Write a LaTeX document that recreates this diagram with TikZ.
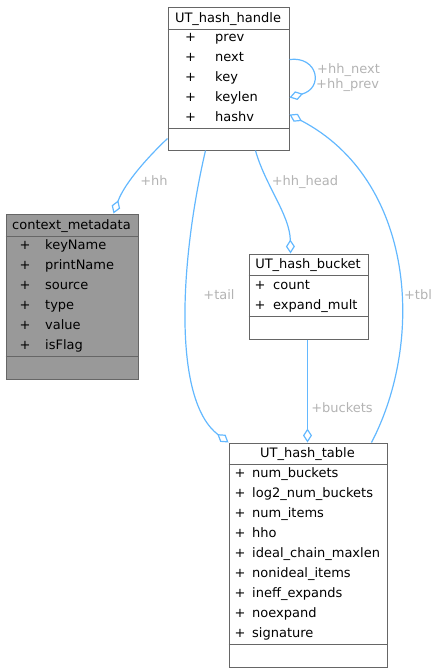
\documentclass[tikz,border=0pt]{standalone}
\usepackage{fontspec}
\setmainfont{DejaVu Sans}
\usetikzlibrary{arrows.meta,calc}
\definecolor{edgec}{HTML}{63B8FF}
\definecolor{labc}{HTML}{B3B3B3}
\definecolor{boxc}{HTML}{666666}
\definecolor{fillc}{HTML}{999999}
\begin{document}
\begin{tikzpicture}[x=1pt,y=-1pt, font=\fontsize{13}{15}\selectfont,
 classbox/.style={draw=boxc, line width=1pt, inner sep=0, anchor=north west},
 sepline/.style={draw=boxc, line width=1pt},
 txt/.style={anchor=base west, inner sep=0},
 ctxt/.style={anchor=base, inner sep=0},
 lbl/.style={text=labc, inner sep=0, anchor=base},
 lblw/.style={text=labc, inner sep=0, anchor=base west},
 rel/.style={draw=edgec, line width=1.2pt, -{Diamond[open, length=14pt, width=9pt]}}]
\useasboundingbox (0,0) rectangle (439,672);

% UT_hash_handle
\node[classbox, minimum width=121pt, minimum height=143pt] (hnd) at (167.5,6.5) {};
\draw[sepline] ($(hnd.north west)+(0,23)$) -- ($(hnd.north east)+(0,23)$);
\draw[sepline] ($(hnd.north west)+(0,122)$) -- ($(hnd.north east)+(0,122)$);
\node[ctxt] (hndT) at (228,22) {UT\_hash\_handle};
\foreach \n/\t [count=\i from 0] in {h1/prev,h2/next,h3/key,h4/keylen,h5/hashv}{
  \node[ctxt] (\n p) at (190.5,41.5+20*\i) {+};
  \node[txt] (\n) at (215,41.5+20*\i) {\t};
}

% context_metadata
\node[classbox, fill=fillc, minimum width=132pt, minimum height=165pt] (ctx) at (5.5,213.5) {};
\draw[sepline] ($(ctx.north west)+(0,23)$) -- ($(ctx.north east)+(0,23)$);
\draw[sepline] ($(ctx.north west)+(0,143)$) -- ($(ctx.north east)+(0,143)$);
\node[ctxt] (ctxT) at (71.5,229) {context\_metadata};
\foreach \n/\t [count=\i from 0] in {c1/keyName,c2/printName,c3/source,c4/type,c5/value,c6/isFlag}{
  \node[ctxt] (\n p) at (25,249.5+20*\i) {+};
  \node[txt] (\n) at (45,249.5+20*\i) {\t};
}

% UT_hash_bucket
\node[classbox, minimum width=119pt, minimum height=85pt] (bkt) at (248.5,253.5) {};
\draw[sepline] ($(bkt.north west)+(0,22)$) -- ($(bkt.north east)+(0,22)$);
\draw[sepline] ($(bkt.north west)+(0,63)$) -- ($(bkt.north east)+(0,63)$);
\node[ctxt] (bktT) at (308,268.5) {UT\_hash\_bucket};
\foreach \n/\t [count=\i from 0] in {b1/count,b2/expand\_mult}{
  \node[ctxt] (\n p) at (260,289.5+20*\i) {+};
  \node[txt] (\n) at (273,289.5+20*\i) {\t};
}

% UT_hash_table
\node[classbox, minimum width=158pt, minimum height=224pt] (tbl) at (228.5,442.5) {};
\draw[sepline] ($(tbl.north west)+(0,22)$) -- ($(tbl.north east)+(0,22)$);
\draw[sepline] ($(tbl.north west)+(0,202)$) -- ($(tbl.north east)+(0,202)$);
\node[ctxt] (tblT) at (307.5,457.5) {UT\_hash\_table};
\foreach \n/\t [count=\i from 0] in {t1/num\_buckets,t2/log2\_num\_buckets,t3/num\_items,t4/hho,t5/ideal\_chain\_maxlen,t6/nonideal\_items,t7/ineff\_expands,t8/noexpand,t9/signature}{
  \node[ctxt] (\n p) at (240,477.5+20*\i) {+};
  \node[txt] (\n) at (252,477.5+20*\i) {\t};
}

% relations
\draw[rel] ($(hnd.north west)+(0,132)$) .. controls (150,155) and (125,182) .. ($(ctx.north west)+(108,0)$);
\draw[rel] ($(hnd.north west)+(122,53)$) .. controls (318,56) and (324,88) .. ($(hnd.north west)+(122,91)$);
\draw[rel] ($(tbl.north west)+(143,0)$) .. controls (425,340) and (415,180) .. ($(hnd.north west)+(122,108)$);
\draw[rel] ($(hnd.south west)+(38,0)$) .. controls (180,260) and (172,400) .. ($(tbl.north west)+(0,0)$);
\draw[rel] ($(hnd.south west)+(88,0)$) .. controls (265,185) and (290,215) .. ($(bkt.north west)+(42,0)$);
\draw[rel] ($(bkt.south west)+(59,0)$) -- ($(tbl.north west)+(79,0)$);

% labels
\node[lbl] (lhh) at (154,185.5) {+hh};
\node[lblw] (lnext) at (317,73.5) {+hh\_next};
\node[lblw] (lprev) at (316,88.5) {+hh\_prev};
\node[lbl] (lhead) at (305,185.5) {+hh\_head};
\node[lbl] (ltail) at (219,299.5) {+tail};
\node[lbl] (ltbl) at (418,299.5) {+tbl};
\node[lbl] (lbkts) at (342,412.5) {+buckets};
\end{tikzpicture}
\end{document}
